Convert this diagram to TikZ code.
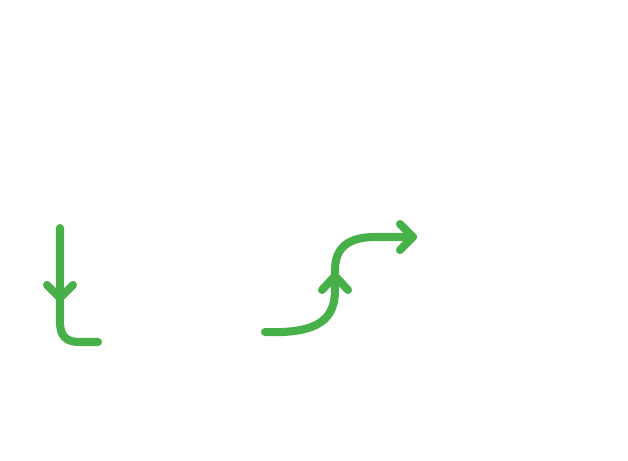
\documentclass[tikz,border=0pt]{standalone}
\definecolor{arrgreen}{RGB}{72,176,72}
\begin{document}
\begin{tikzpicture}[x=0.02cm,y=-0.02cm,
                    line path/.style={draw=arrgreen,line width=4.6pt,line cap=round,line join=round}
                   ]
   \useasboundingbox (0,0) rectangle (628,460);
   % left path, down then turning right
   \coordinate (p1) at (60,228);
   \coordinate (p2) at (98,342);
   \draw[line path] (p1) -- (60,322) .. controls (60,338) and (68,342) .. (80,342) -- (p2);
   \draw[line path] (47,285) -- (60,298) -- (73,285);
   % right path, s-curve
   \coordinate (q1) at (265,332);
   \coordinate (q2) at (413,237);
   \draw[line path] (q1) .. controls (320,334) and (335,318) .. (335,290) -- (335,270)
        .. controls (335,248) and (348,237) .. (375,237) -- (q2);
   \draw[line path] (322,290) -- (335,276) -- (348,290);
   \draw[line path] (400,224) -- (q2) -- (400,250);
\end{tikzpicture}
\end{document}
